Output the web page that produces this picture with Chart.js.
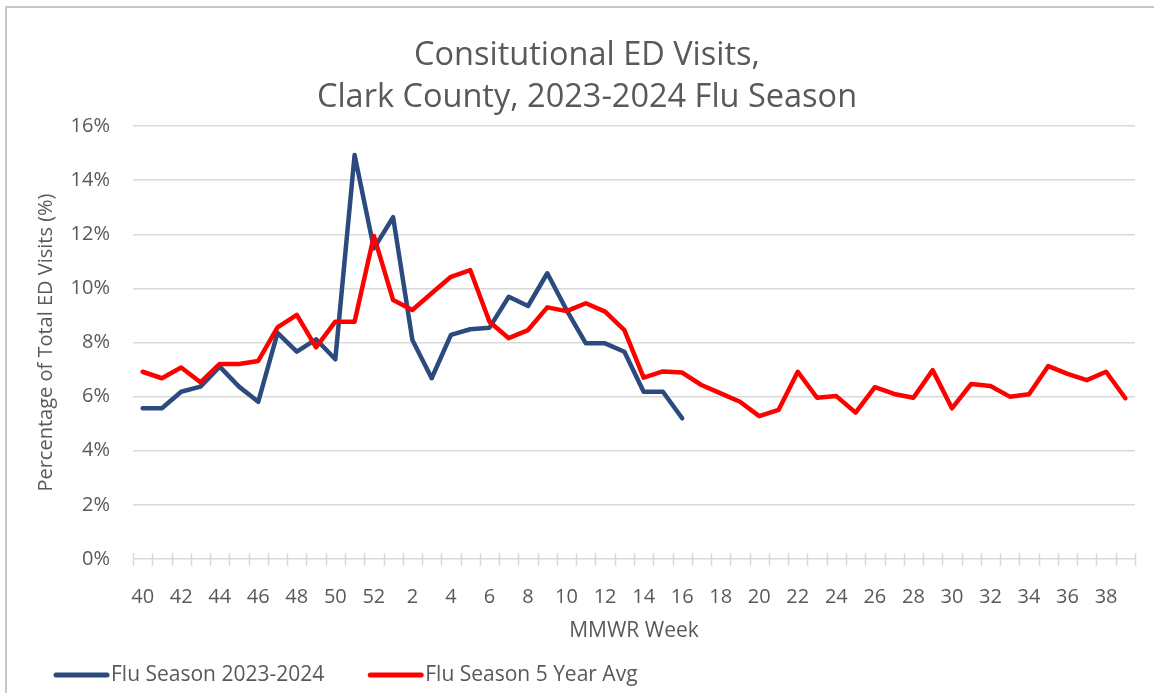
<!DOCTYPE html>
<html>
<head>
<meta charset="utf-8">
<script src="https://cdn.jsdelivr.net/npm/chart.js@4.4.1/dist/chart.umd.min.js"></script>
<style>
    body { margin: 0; background: #fff; }
    #frame { position: absolute; left: 5px; top: 6px; width: 1200px; height: 800px;
             border-left: 2px solid #c8c8c8; border-top: 2px solid #c8c8c8; }
    #chart { position: absolute; left: 0; top: 0; }
</style>
</head>
<body>
<div id="frame"></div>
<canvas id="chart" width="1154" height="693"></canvas>
<script>
// MMWR weeks, 40 .. 52 then 1 .. 39
const weeks = [40, 41, 42, 43, 44, 45, 46, 47, 48, 49, 50, 51, 52,
    1, 2, 3, 4, 5, 6, 7, 8, 9, 10, 11, 12, 13, 14, 15, 16, 17, 18, 19, 20,
    21, 22, 23, 24, 25, 26, 27, 28, 29, 30, 31, 32, 33, 34, 35, 36, 37, 38, 39];

// % of total ED visits
const season2324 = [5.57, 5.57, 6.18, 6.37, 7.11, 6.37, 5.81, 8.36, 7.66, 8.12,
    7.38, 14.93, 11.48, 12.63, 8.09, 6.68, 8.28, 8.49, 8.55, 9.69,
    9.35, 10.56, 9.20, 7.97, 7.97, 7.66, 6.18, 6.18, 5.20,
    null, null, null, null, null, null, null, null, null, null, null, null,
    null, null, null, null, null, null, null, null, null, null, null];

const avg5yr = [6.92, 6.68, 7.08, 6.53, 7.21, 7.21, 7.32, 8.56, 9.02, 7.82,
    8.77, 8.77, 11.94, 9.57, 9.20, 9.82, 10.43, 10.68, 8.77, 8.16,
    8.46, 9.30, 9.16, 9.45, 9.14, 8.46, 6.70, 6.93, 6.89, 6.43,
    6.12, 5.81, 5.28, 5.51, 6.92, 5.96, 6.02, 5.41, 6.35, 6.10,
    5.96, 6.98, 5.57, 6.47, 6.39, 6.00, 6.09, 7.13, 6.84, 6.61,
    6.92, 5.94];

const seriesNames = ['Flu Season 2023-2024', 'Flu Season 5 Year Avg'];
const seriesColors = ['#2b4a7e', '#ff0000'];
const yTicks = [0, 2, 4, 6, 8, 10, 12, 14, 16];

const FONT = "'Open Sans', 'Noto Sans', sans-serif";
const TEXT = '#595959';
const GRID = '#d9d9d9';

// little cross ticks on the category axis, like excel
const crossTicks = {
    id: 'crossTicks',
    afterDraw(chart) {
        const x = chart.scales.x;
        const y0 = chart.scales.y.getPixelForValue(0);
        const step = x.getPixelForValue(1) - x.getPixelForValue(0);
        const start = x.getPixelForValue(0) - step / 2;
        const ctx = chart.ctx;
        ctx.save();
        ctx.strokeStyle = GRID;
        ctx.lineWidth = 1.5;
        ctx.beginPath();
        for (let i = 0; i <= weeks.length; i++) {
            const px = Math.round(start + i * step) + 0.5;
            ctx.moveTo(px, y0 - 6);
            ctx.lineTo(px, y0 + 7);
        }
        ctx.stroke();
        ctx.restore();
    }
};

// legend at bottom left
const bottomLegend = {
    id: 'bottomLegend',
    afterDraw(chart) {
        const ctx = chart.ctx;
        const y = 675;
        let x = 53;
        ctx.save();
        ctx.font = '21px ' + FONT;
        ctx.textBaseline = 'middle';
        chart.data.datasets.forEach(function (ds) {
            ctx.strokeStyle = ds.borderColor;
            ctx.lineWidth = 5;
            ctx.lineCap = 'round';
            ctx.beginPath();
            ctx.moveTo(x + 3, y);
            ctx.lineTo(x + 54, y);
            ctx.stroke();
            ctx.fillStyle = TEXT;
            ctx.fillText(ds.label, x + 58, y);
            x += 58 + ctx.measureText(ds.label).width + 43;
        });
        ctx.restore();
    }
};

function makeDataset(i, values) {
    return {
        label: seriesNames[i],
        data: values,
        order: 1 - i, // red drawn over blue
        borderColor: seriesColors[i],
        backgroundColor: seriesColors[i],
        borderWidth: 4.5,
        pointRadius: 0,
        tension: 0,
        borderJoinStyle: 'round',
        borderCapStyle: 'round'
    };
}

const ctx = document.getElementById('chart').getContext('2d');
new Chart(ctx, {
    type: 'line',
    data: {
        labels: weeks,
        datasets: [makeDataset(0, season2324), makeDataset(1, avg5yr)]
    },
    options: {
        responsive: false,
        animation: false,
        devicePixelRatio: 1,
        layout: { padding: { left: 39, right: 19, top: 0, bottom: 40 } },
        plugins: {
            legend: { display: false },
            tooltip: { enabled: false },
            title: {
                display: true,
                text: ['Consitutional ED Visits,', 'Clark County, 2023-2024 Flu Season'],
                color: TEXT,
                font: { family: FONT, size: 32.5, weight: 'normal', lineHeight: 1.27 },
                padding: { top: 35.5, bottom: 8 }
            }
        },
        scales: {
            x: {
                offset: true,
                grid: { display: false },
                border: { display: false },
                ticks: {
                    autoSkip: false,
                    maxRotation: 0,
                    padding: 18,
                    color: TEXT,
                    font: { family: FONT, size: 20 },
                    callback: function (v, i) { return i % 2 === 0 ? weeks[i] : ''; }
                },
                title: {
                    display: true,
                    text: 'MMWR Week',
                    color: TEXT,
                    font: { family: FONT, size: 21, lineHeight: 1.2 },
                    padding: { top: 0, bottom: 9.4 }
                },
                afterFit: function (s) { s.height = 94; }
            },
            y: {
                min: yTicks[0],
                max: yTicks[yTicks.length - 1],
                grid: { color: GRID, lineWidth: 1.5, drawTicks: false },
                border: { display: false },
                afterBuildTicks: function (s) { s.ticks = yTicks.map(v => ({ value: v })); },
                ticks: {
                    padding: 23,
                    color: TEXT,
                    font: { family: FONT, size: 20 },
                    callback: v => v + '%'
                },
                title: {
                    display: true,
                    text: 'Percentage of Total ED Visits (%)',
                    color: TEXT,
                    font: { family: FONT, size: 20, lineHeight: 1.2 },
                    padding: { top: -5, bottom: 0 }
                },
                afterFit: function (s) { s.width = 94; }
            }
        }
    },
    plugins: [crossTicks, bottomLegend]
});
</script>
</body>
</html>
